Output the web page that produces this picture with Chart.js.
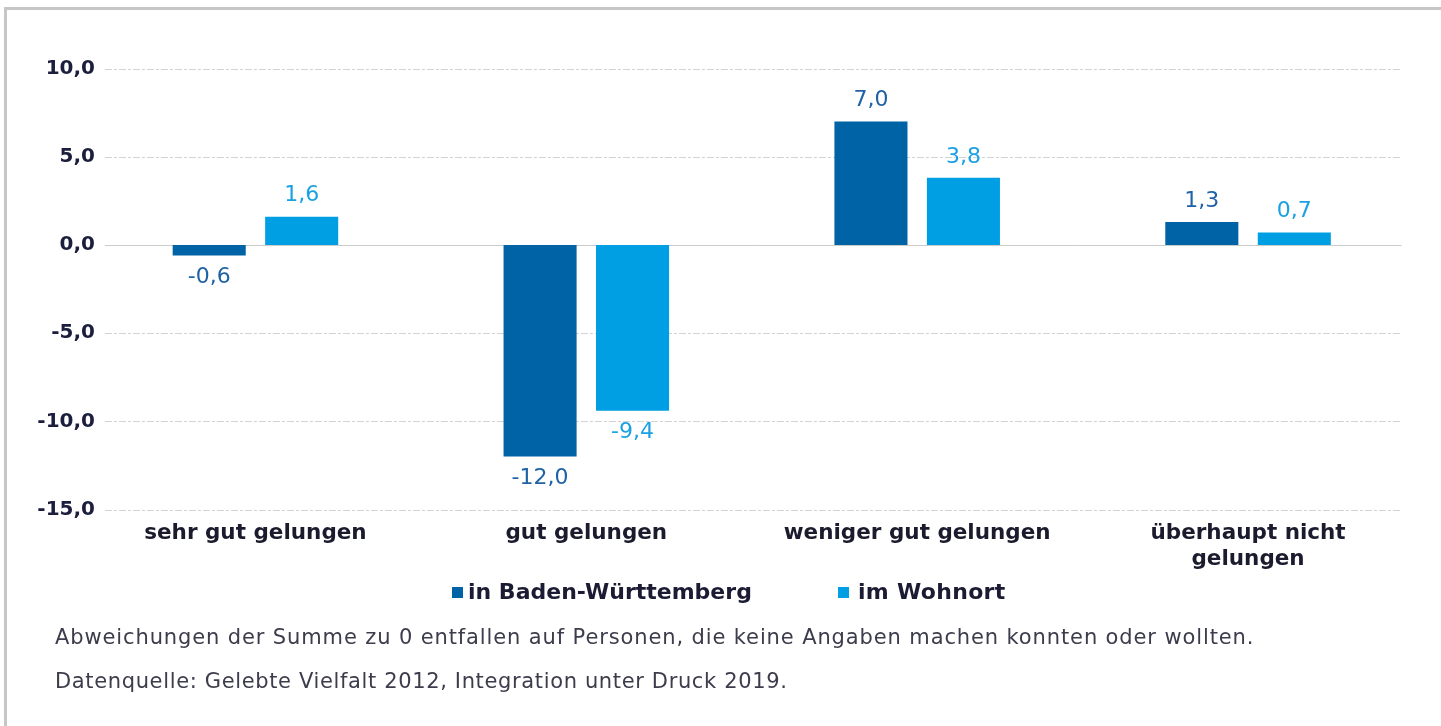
<!DOCTYPE html>
<html><head><meta charset="utf-8">
<script src="https://cdn.jsdelivr.net/npm/chart.js@4"></script>
<style>
html,body{margin:0;padding:0;background:#fff;}
#wrap{position:relative;width:1441px;height:726px;overflow:hidden;font-family:"DejaVu Sans",sans-serif;}
#frame{position:absolute;left:4px;top:7px;width:1460px;height:740px;border-top:3px solid #c6c6c6;border-left:3px solid #c6c6c6;}
canvas{position:absolute;left:0;top:0;}
.lg{position:absolute;top:580px;height:24px;line-height:24px;font-size:22px;font-weight:bold;color:#1b1b33;white-space:nowrap;}
.sw{position:absolute;top:587px;width:11px;height:11px;}
.fn{position:absolute;left:55px;height:24px;line-height:24px;font-size:21px;color:#3c3c4c;white-space:nowrap;}
</style></head>
<body><div id="wrap">
<div id="frame"></div>
<canvas id="c" width="1441" height="726"></canvas>
<div class="sw" id="sw0" style="left:452px"></div><div class="lg" id="lg0" style="left:468px"></div>
<div class="sw" id="sw1" style="left:838px"></div><div class="lg" id="lg1" style="left:858px;letter-spacing:0.3px"></div>
<div class="fn" style="top:625px;letter-spacing:0.88px">Abweichungen der Summe zu 0 entfallen auf Personen, die keine Angaben machen konnten oder wollten.</div>
<div class="fn" style="top:669px;letter-spacing:0.64px">Datenquelle: Gelebte Vielfalt 2012, Integration unter Druck 2019.</div>
</div>
<script>
const categories = ["sehr gut gelungen", "gut gelungen", "weniger gut gelungen", ["überhaupt nicht", "gelungen"]];
const seriesNames = ["in Baden-Württemberg", "im Wohnort"];
const badenWuerttemberg = [-0.6, -12.0, 7.0, 1.3];
const imWohnort = [1.6, -9.4, 3.8, 0.7];
const yTickValues = [-15, -10, -5, 0, 5, 10];

const colors = ["#0063a6", "#009fe3"];
const labelColors = ["#1f63a6", "#1ba1e3"];
const fmt = v => v.toFixed(1).replace('.', ',');

document.getElementById('lg0').textContent = seriesNames[0];
document.getElementById('lg1').textContent = seriesNames[1];
document.getElementById('sw0').style.background = colors[0];
document.getElementById('sw1').style.background = colors[1];

const gridPlugin = {
  id: 'gridLines',
  beforeDatasetsDraw(chart) {
    const ctx = chart.ctx, y = chart.scales.y, ca = chart.chartArea;
    const x0 = ca.left + 15, x1 = ca.right - 12;
    ctx.save();
    ctx.lineWidth = 1;
    y.ticks.forEach(t => {
      const py = Math.round(y.getPixelForValue(t.value)) + 0.5;
      if (t.value === 0) { ctx.setLineDash([]); ctx.strokeStyle = '#cbcbcb'; }
      else { ctx.setLineDash([7, 2, 3, 2]); ctx.strokeStyle = '#d3d3d3'; }
      ctx.beginPath(); ctx.moveTo(x0, py); ctx.lineTo(x1, py); ctx.stroke();
    });
    ctx.restore();
  }
};

const valuePlugin = {
  id: 'valueLabels',
  afterDatasetsDraw(chart) {
    const ctx = chart.ctx;
    ctx.save();
    ctx.font = '22px "DejaVu Sans"';
    ctx.textAlign = 'center';
    ctx.textBaseline = 'middle';
    chart.data.datasets.forEach((ds, i) => {
      const meta = chart.getDatasetMeta(i);
      meta.data.forEach((bar, j) => {
        const v = ds.data[j];
        ctx.fillStyle = labelColors[i];
        ctx.fillText(fmt(v), bar.x, v >= 0 ? bar.y - 21 : bar.y + 22);
      });
    });
    ctx.restore();
  }
};

new Chart(document.getElementById('c'), {
  type: 'bar',
  data: {
    labels: categories,
    datasets: [
      { label: seriesNames[0], data: badenWuerttemberg, backgroundColor: colors[0], borderWidth: 0 },
      { label: seriesNames[1], data: imWohnort, backgroundColor: colors[1], borderWidth: 0 }
    ]
  },
  options: {
    responsive: false,
    animation: false,
    devicePixelRatio: 1,
    categoryPercentage: 0.559,
    barPercentage: 0.79,
    layout: { padding: { left: 0, right: 27.5, top: 68.5, bottom: 136.5 } },
    plugins: { legend: { display: false }, tooltip: { enabled: false } },
    scales: {
      x: {
        grid: { display: false, drawTicks: false }, border: { display: false },
        afterFit: s => { s.height = 80; },
        ticks: { padding: 11, color: '#1b1b2e', font: { family: 'DejaVu Sans', size: 21.5, weight: 'bold', lineHeight: 1.22 }, maxRotation: 0, autoSkip: false }
      },
      y: {
        min: -15, max: 10,
        grid: { display: false, drawTicks: false }, border: { display: false },
        afterFit: s => { s.width = 90; s._computeLabelArea = () => undefined; },
        afterBuildTicks: s => { s.ticks = yTickValues.map(v => ({ value: v })); },
        ticks: { padding: -5, color: '#1b1e3c', font: { family: 'DejaVu Sans', size: 20, weight: 'bold' }, callback: v => fmt(v) }
      }
    }
  },
  plugins: [gridPlugin, valuePlugin]
});
</script>
</body></html>
